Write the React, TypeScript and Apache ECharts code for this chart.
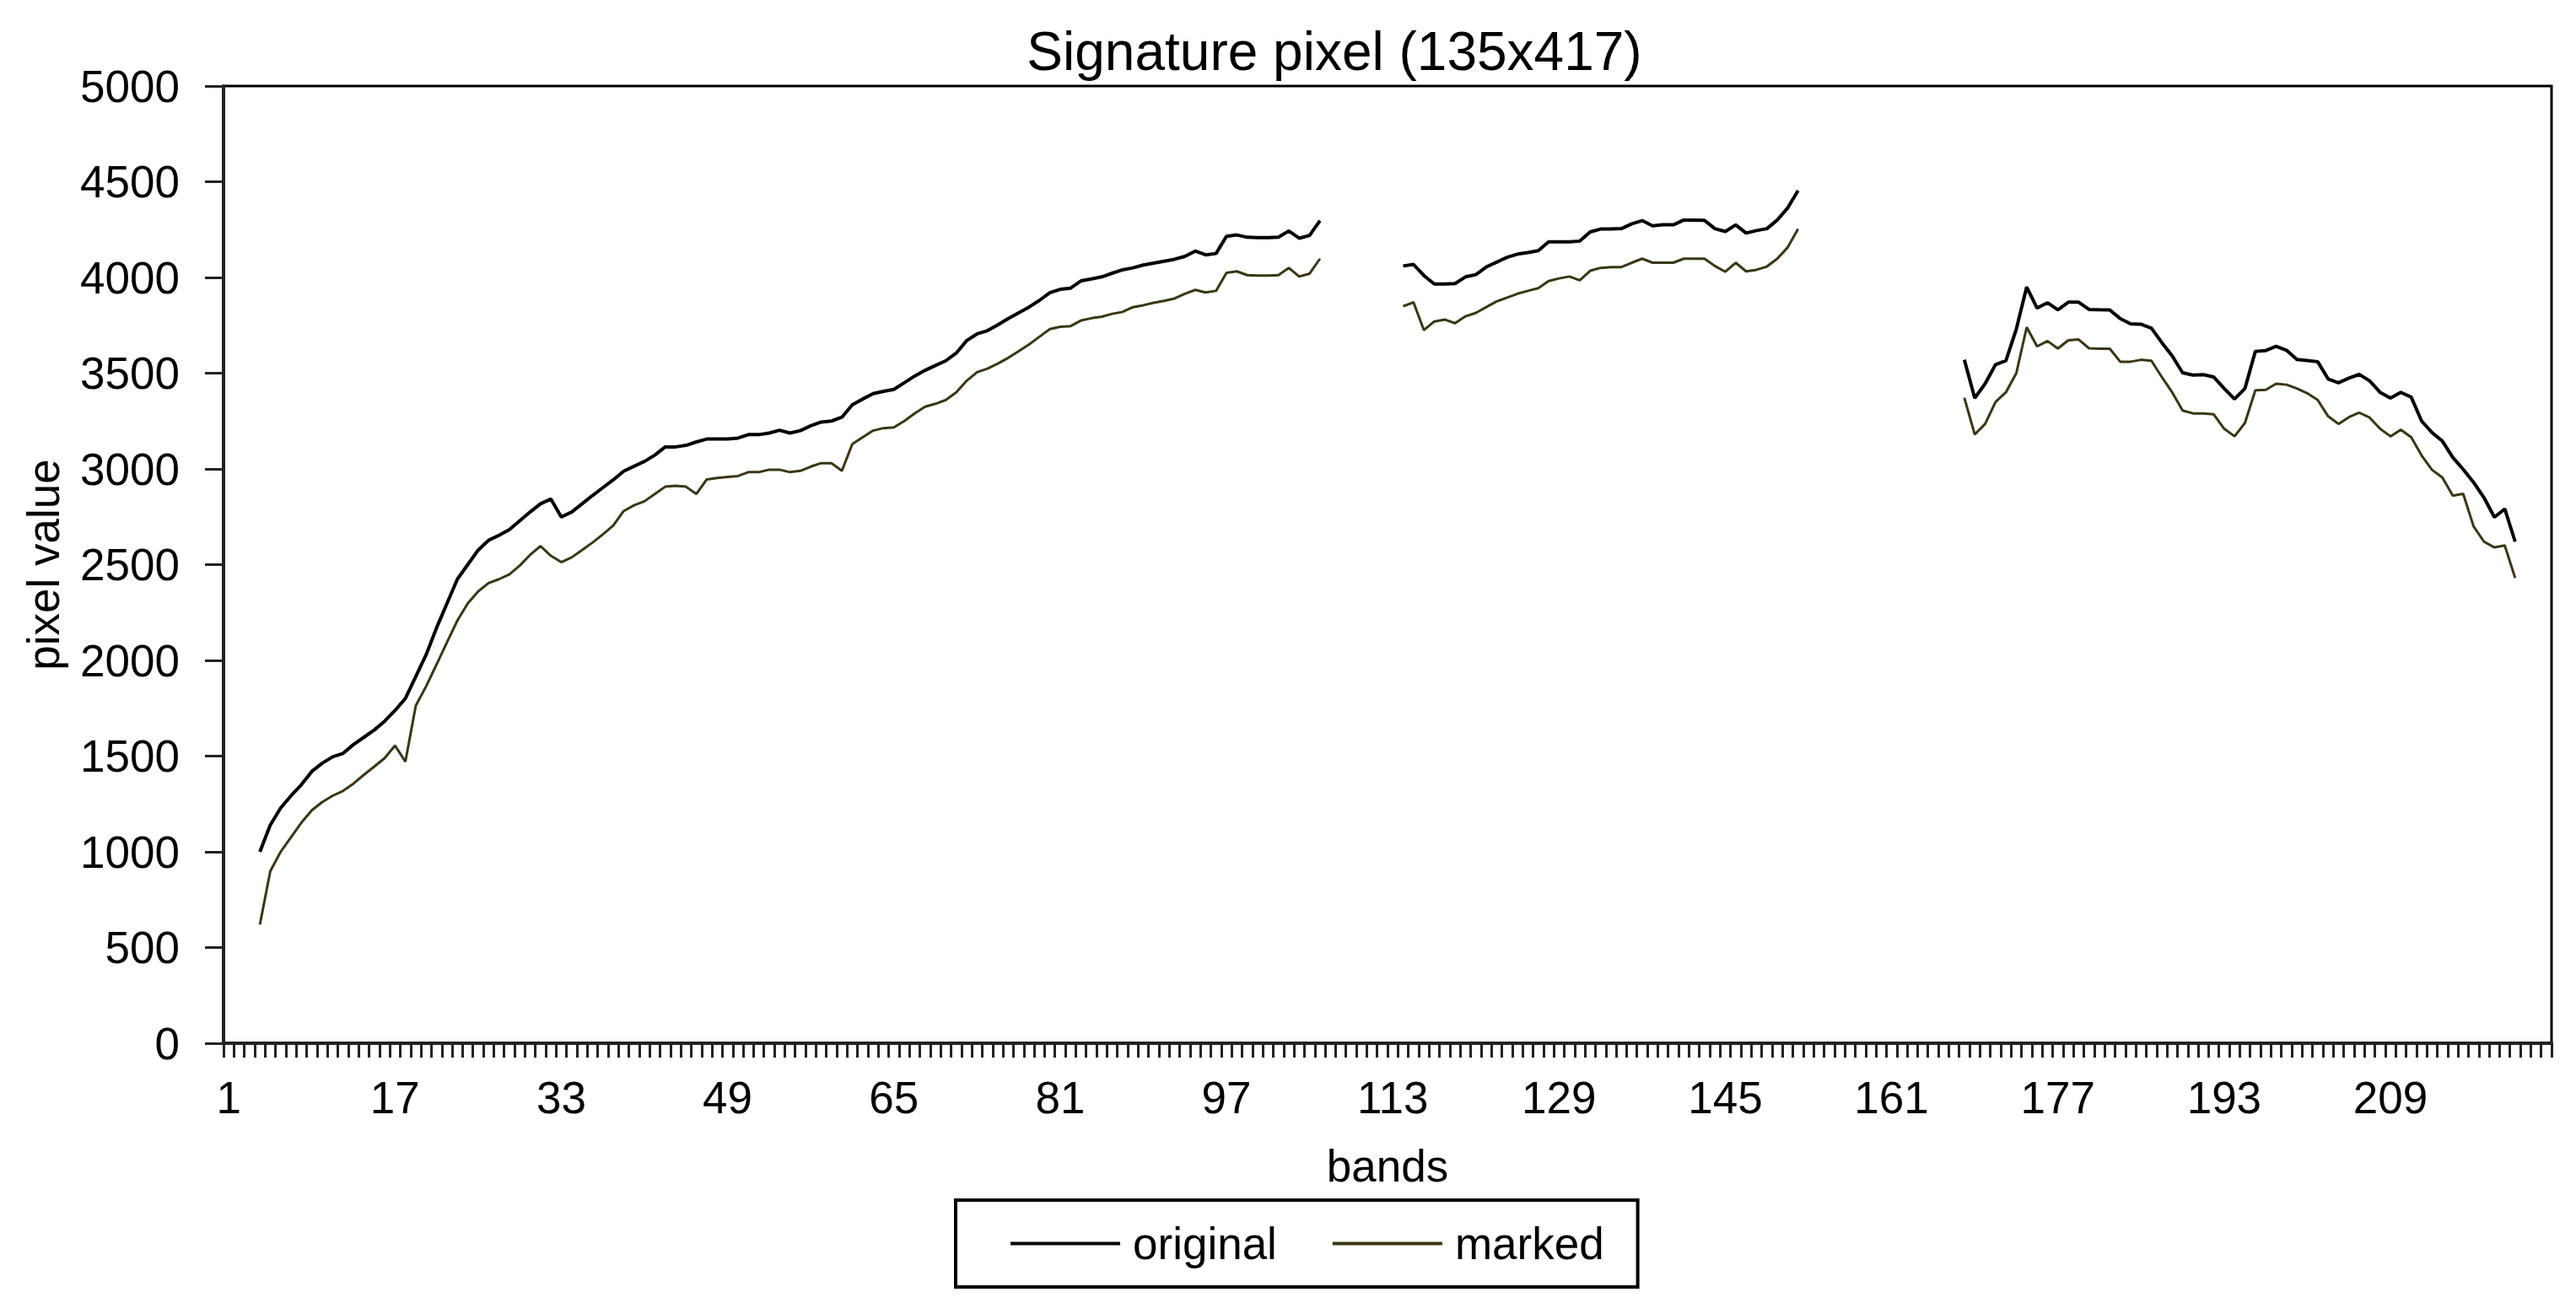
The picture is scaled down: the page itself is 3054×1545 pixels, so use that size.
import React, { useEffect, useRef } from "react";
import * as echarts from "echarts";

// Categories: spectral bands 1..224
const bandLabels: string[] = [];
for (let b = 1; b <= 224; b++) bandLabels.push(String(b));

// First band of each measured segment (gaps between them are water-absorption bands)
const segmentStarts = [4, 114, 168];

// "original" signature, per segment
const originalSeg1 = [
  1000, 1140, 1229, 1293, 1351, 1420, 1463, 1496, 1514, 1560, 1598, 1636, 1682, 1738, 1801, 1916,
  2030, 2170, 2297, 2424, 2500, 2576, 2627, 2653, 2683, 2729, 2775, 2818, 2843, 2749, 2775, 2818,
  2861, 2902, 2943, 2988, 3014, 3039, 3072, 3115, 3115, 3123, 3141, 3156, 3156, 3156, 3161, 3179,
  3179, 3187, 3202, 3187, 3200, 3225, 3245, 3250, 3270, 3335, 3365, 3393, 3405, 3415, 3450, 3485,
  3515, 3540, 3565, 3605, 3670, 3705, 3722, 3752, 3785, 3815, 3845, 3880, 3920, 3938, 3944, 3982,
  3992, 4003, 4022, 4040, 4050, 4065, 4075, 4085, 4095, 4110, 4138, 4118, 4125, 4215, 4222, 4210,
  4208, 4208, 4210, 4243, 4205, 4220, 4297,
];
const originalSeg2 = [
  4060, 4068, 4010, 3966, 3966, 3968, 4003, 4015, 4055, 4080, 4105, 4122, 4130, 4140, 4186, 4186,
  4186, 4190, 4238, 4253, 4253, 4255, 4280, 4297, 4270, 4275, 4275, 4300, 4300, 4298, 4255, 4240,
  4275, 4232, 4245, 4255, 4300, 4363, 4454,
];
const originalSeg3 = [
  3570, 3370, 3445, 3545, 3565, 3730, 3950, 3840, 3868, 3831, 3871, 3871, 3833, 3831, 3830, 3785,
  3758, 3756, 3735, 3660, 3590, 3502, 3490, 3492, 3480, 3420, 3365, 3420, 3614, 3618, 3640, 3620,
  3572, 3566, 3560, 3470, 3450, 3474, 3494, 3460, 3400, 3370, 3400, 3375, 3250, 3190, 3145, 3060,
  2998, 2930, 2850, 2748, 2791, 2620,
];

// "marked" signature, per segment
const markedSeg1 = [
  620, 899, 1000, 1077, 1153, 1217, 1260, 1293, 1318, 1356, 1402, 1445, 1489, 1555, 1471, 1763,
  1865, 1979, 2094, 2208, 2297, 2360, 2404, 2424, 2449, 2495, 2551, 2597, 2546, 2513, 2538, 2576,
  2615, 2658, 2704, 2780, 2810, 2831, 2869, 2907, 2912, 2907, 2869, 2945, 2953, 2958, 2963, 2983,
  2983, 2996, 2996, 2983, 2990, 3012, 3030, 3030, 2990, 3130, 3165, 3200, 3213, 3217, 3250, 3290,
  3325, 3340, 3360, 3400, 3460, 3505, 3524, 3550, 3580, 3615, 3650, 3690, 3730, 3742, 3746, 3775,
  3787, 3795, 3810, 3820, 3845, 3855, 3868, 3878, 3890, 3915, 3935, 3922, 3930, 4024, 4032, 4012,
  4010, 4010, 4012, 4050, 4005, 4020, 4098,
];
const markedSeg2 = [
  3850, 3870, 3725, 3770, 3780, 3761, 3797, 3815, 3845, 3875, 3895, 3915, 3930, 3944, 3981, 3995,
  4005, 3985, 4035, 4050, 4054, 4054, 4077, 4098, 4077, 4077, 4077, 4098, 4098, 4098, 4060, 4030,
  4077, 4032, 4040, 4057, 4098, 4157, 4253,
];
const markedSeg3 = [
  3372, 3180, 3235, 3350, 3400, 3500, 3740, 3640, 3668, 3629, 3672, 3676, 3630, 3628, 3628, 3560,
  3560, 3570, 3565, 3480, 3400, 3305, 3290, 3290, 3285, 3210, 3170, 3240, 3411, 3413, 3445, 3440,
  3420, 3395, 3360, 3275, 3235, 3270, 3294, 3268, 3210, 3170, 3205, 3165, 3070, 2995, 2955, 2860,
  2870, 2700, 2620, 2590, 2600, 2430,
];

const yTicks = { min: 0, max: 5000, interval: 500 };

function buildSeries(segs: number[][]): (number | null)[] {
  const out: (number | null)[] = bandLabels.map(() => null);
  segs.forEach((seg, k) => {
    seg.forEach((v, i) => {
      out[segmentStarts[k] - 1 + i] = v;
    });
  });
  return out;
}

const FONT = "'Liberation Sans', Arial, sans-serif";
const ORIGINAL_COLOR = "#000000";
const MARKED_COLOR = "#3a3614";

export default function App() {
  const ref = useRef<HTMLDivElement>(null);

  useEffect(() => {
    if (!ref.current) return;
    const chart = echarts.init(ref.current, undefined, { renderer: "svg" });
    chart.setOption({
      animation: false,
      backgroundColor: "#ffffff",
      title: {
        text: "Signature pixel (135x417)",
        left: 1582,
        top: 29,
        textAlign: "center",
        padding: 0,
        textStyle: { fontSize: 64, fontWeight: "normal", color: "#000", fontFamily: FONT },
      },
      legend: {
        left: 1133,
        top: 1423,
        orient: "horizontal",
        padding: [25, 40, 25, 65],
        borderColor: "#000",
        borderWidth: 4,
        itemWidth: 130,
        itemHeight: 4,
        itemGap: 66,
        icon: "rect",
        textStyle: { fontSize: 53, color: "#000", fontFamily: FONT, padding: [0, 0, 0, 10] },
        data: ["original", "marked"],
      },
      grid: {
        left: 265,
        right: 29,
        top: 102,
        bottom: 308,
        show: true,
        borderColor: "#000",
        borderWidth: 3,
        backgroundColor: "transparent",
      },
      xAxis: {
        type: "category",
        data: bandLabels,
        boundaryGap: true,
        name: "bands",
        nameLocation: "middle",
        nameGap: 119,
        nameTextStyle: { fontSize: 53, color: "#000", fontFamily: FONT },
        axisLine: { show: true, lineStyle: { color: "#222", width: 4 } },
        axisTick: { show: true, interval: 0, length: 17, lineStyle: { color: "#222", width: 3 } },
        axisLabel: { interval: 15, fontSize: 53, color: "#000", margin: 38, fontFamily: FONT },
        splitLine: { show: false },
      },
      yAxis: {
        type: "value",
        min: yTicks.min,
        max: yTicks.max,
        interval: yTicks.interval,
        name: "pixel value",
        nameLocation: "middle",
        nameGap: 187,
        nameRotate: 90,
        nameTextStyle: { fontSize: 53, color: "#000", fontFamily: FONT },
        axisLine: { show: true, lineStyle: { color: "#222", width: 4 } },
        axisTick: { show: true, length: 22, lineStyle: { color: "#222", width: 3 } },
        axisLabel: {
          fontSize: 53,
          color: "#000",
          margin: 52,
          fontFamily: FONT,
          formatter: (v: number) => String(v),
        },
        splitLine: { show: false },
      },
      series: [
        {
          name: "original",
          type: "line",
          data: buildSeries([originalSeg1, originalSeg2, originalSeg3]),
          showSymbol: false,
          symbol: "none",
          connectNulls: false,
          color: ORIGINAL_COLOR,
          lineStyle: { color: ORIGINAL_COLOR, width: 4 },
          itemStyle: { color: ORIGINAL_COLOR },
        },
        {
          name: "marked",
          type: "line",
          data: buildSeries([markedSeg1, markedSeg2, markedSeg3]),
          showSymbol: false,
          symbol: "none",
          connectNulls: false,
          color: MARKED_COLOR,
          lineStyle: { color: MARKED_COLOR, width: 3 },
          itemStyle: { color: MARKED_COLOR },
        },
      ],
    });
    return () => chart.dispose();
  }, []);

  return (
    <div
      ref={ref}
      style={{ position: "fixed", left: 0, top: 0, width: 3054, height: 1545, background: "#fff" }}
    />
  );
}
